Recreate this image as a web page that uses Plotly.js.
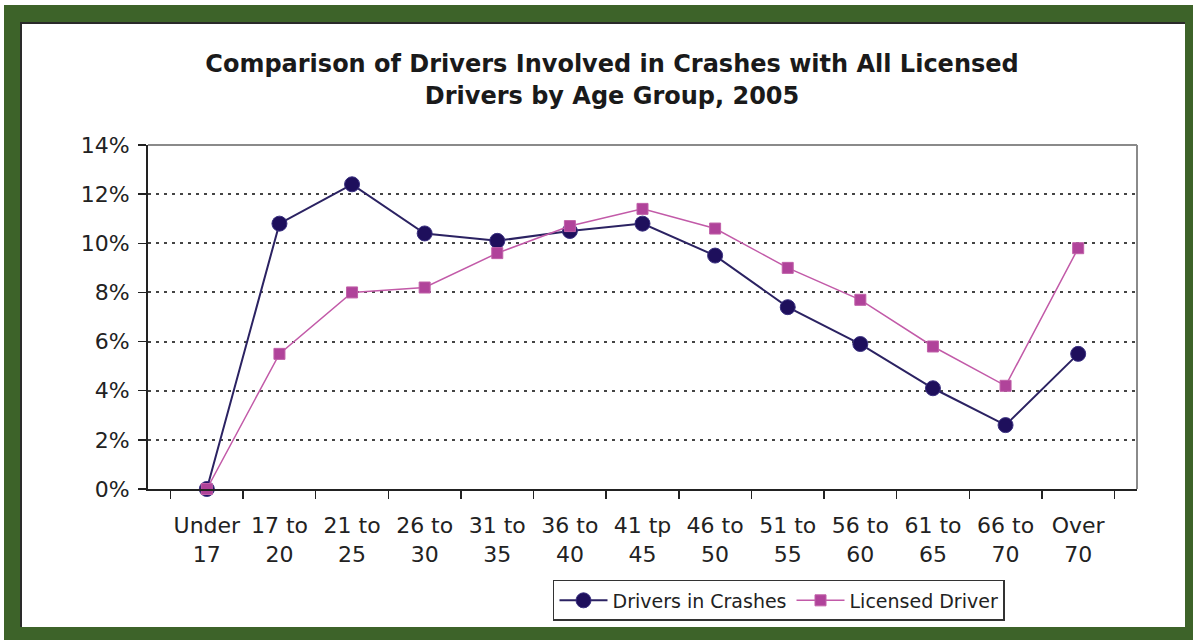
<!DOCTYPE html>
<html>
<head>
<meta charset="utf-8">
<script src="https://cdn.plot.ly/plotly-3.0.1.min.js"></script>
<style>
  html, body { margin: 0; padding: 0; background: #ffffff; }
  #wrap { position: relative; width: 1193px; height: 640px; overflow: hidden; }
  #chart { position: absolute; left: 0; top: 0; width: 1193px; height: 640px; }
  #frame {
    position: absolute; left: 4px; top: 5px; width: 1189px; height: 635px;
    box-sizing: border-box; border-style: solid; border-color: #3d6329;
    border-width: 17px 8px 13px 16px; pointer-events: none;
  }
  #inner {
    position: absolute; left: 0; top: 0; right: 0; bottom: 0;
    border-left: 2px solid #2a2a2a; border-top: 2px solid #2a2a2a;
    box-sizing: border-box;
  }
</style>
</head>
<body>
<div id="wrap">
  <div id="chart"></div>
  <div id="frame"><div id="inner"></div></div>
</div>
<script>
const categories = ["Under<br>17", "17 to<br>20", "21 to<br>25", "26 to<br>30", "31 to<br>35", "36 to<br>40",
  "41 tp<br>45", "46 to<br>50", "51 to<br>55", "56 to<br>60", "61 to<br>65", "66 to<br>70", "Over<br>70"];
const driversInCrashes = [0, 10.8, 12.4, 10.4, 10.1, 10.5, 10.8, 9.5, 7.4, 5.9, 4.1, 2.6, 5.5];
const licensedDriver = [0, 5.5, 8.0, 8.2, 9.6, 10.7, 11.4, 10.6, 9.0, 7.7, 5.8, 4.2, 9.8];
const yTicks = [0, 2, 4, 6, 8, 10, 12, 14];
const yTickLabels = ["0%", "2%", "4%", "6%", "8%", "10%", "12%", "14%"];

const traces = [
  {
    x: categories, y: driversInCrashes, name: "Drivers in Crashes",
    type: "scatter", mode: "lines+markers", cliponaxis: false,
    line: { color: "#2b2262", width: 2 },
    marker: { symbol: "circle", size: 15, color: "#1e0f5c", line: { color: "#3a3080", width: 1 } }
  },
  {
    x: categories, y: licensedDriver, name: "Licensed Driver",
    type: "scatter", mode: "lines+markers", cliponaxis: false,
    line: { color: "#c25aa8", width: 1.5 },
    marker: { symbol: "square", size: 11, color: "#b0439a", line: { color: "#c060a8", width: 1 } }
  }
];

const layout = {
  width: 1193, height: 640,
  paper_bgcolor: "#ffffff", plot_bgcolor: "#ffffff",
  margin: { l: 148, r: 56, t: 145, b: 151, autoexpand: false },
  font: { family: "DejaVu Sans, Arial, sans-serif", color: "#222222" },
  title: {
    text: "Comparison of Drivers Involved in Crashes with All Licensed<br>Drivers by Age Group, 2005",
    font: { family: "DejaVu Sans, Arial, sans-serif", size: 24, weight: "bold", color: "#1a1a1a" },
    x: 0.513, xanchor: "center", xref: "container",
    y: 0.887, yanchor: "middle", yref: "container"
  },
  showlegend: true,
  legend: {
    orientation: "h", x: 0.4095, xanchor: "left", y: -0.2645, yanchor: "top",
    bordercolor: "#333333", borderwidth: 1.5, bgcolor: "#ffffff",
    font: { size: 19, color: "#222222" }, traceorder: "normal", itemwidth: 48
  },
  xaxis: {
    type: "category", showline: true, linecolor: "#222222", linewidth: 2,
    ticks: "outside", ticklen: 8, tickwidth: 1.5, tickcolor: "#222222",
    tickson: "boundaries", showgrid: false, zeroline: false, tickangle: 0,
    tickfont: { size: 22, color: "#222222" }, ticklabelstandoff: 16
  },
  yaxis: {
    range: [0, 14], tickmode: "array", tickvals: yTicks, ticktext: yTickLabels,
    showline: true, linecolor: "#222222", linewidth: 2,
    ticks: "outside", ticklen: 8, tickwidth: 1.5, tickcolor: "#222222",
    showgrid: true, gridcolor: "#444444", gridwidth: 2, griddash: "3px,5px",
    zeroline: false, tickfont: { size: 22, color: "#222222" }, ticklabelstandoff: 4
  },
  shapes: [
    { type: "line", xref: "paper", yref: "paper", x0: 0, x1: 1, y0: 1, y1: 1, line: { color: "#8a8a8a", width: 2 } },
    { type: "line", xref: "paper", yref: "paper", x0: 1, x1: 1, y0: 0, y1: 1, line: { color: "#8a8a8a", width: 2 } }
  ]
};

Plotly.newPlot("chart", traces, layout, { staticPlot: true, displayModeBar: false });
</script>
</body>
</html>
